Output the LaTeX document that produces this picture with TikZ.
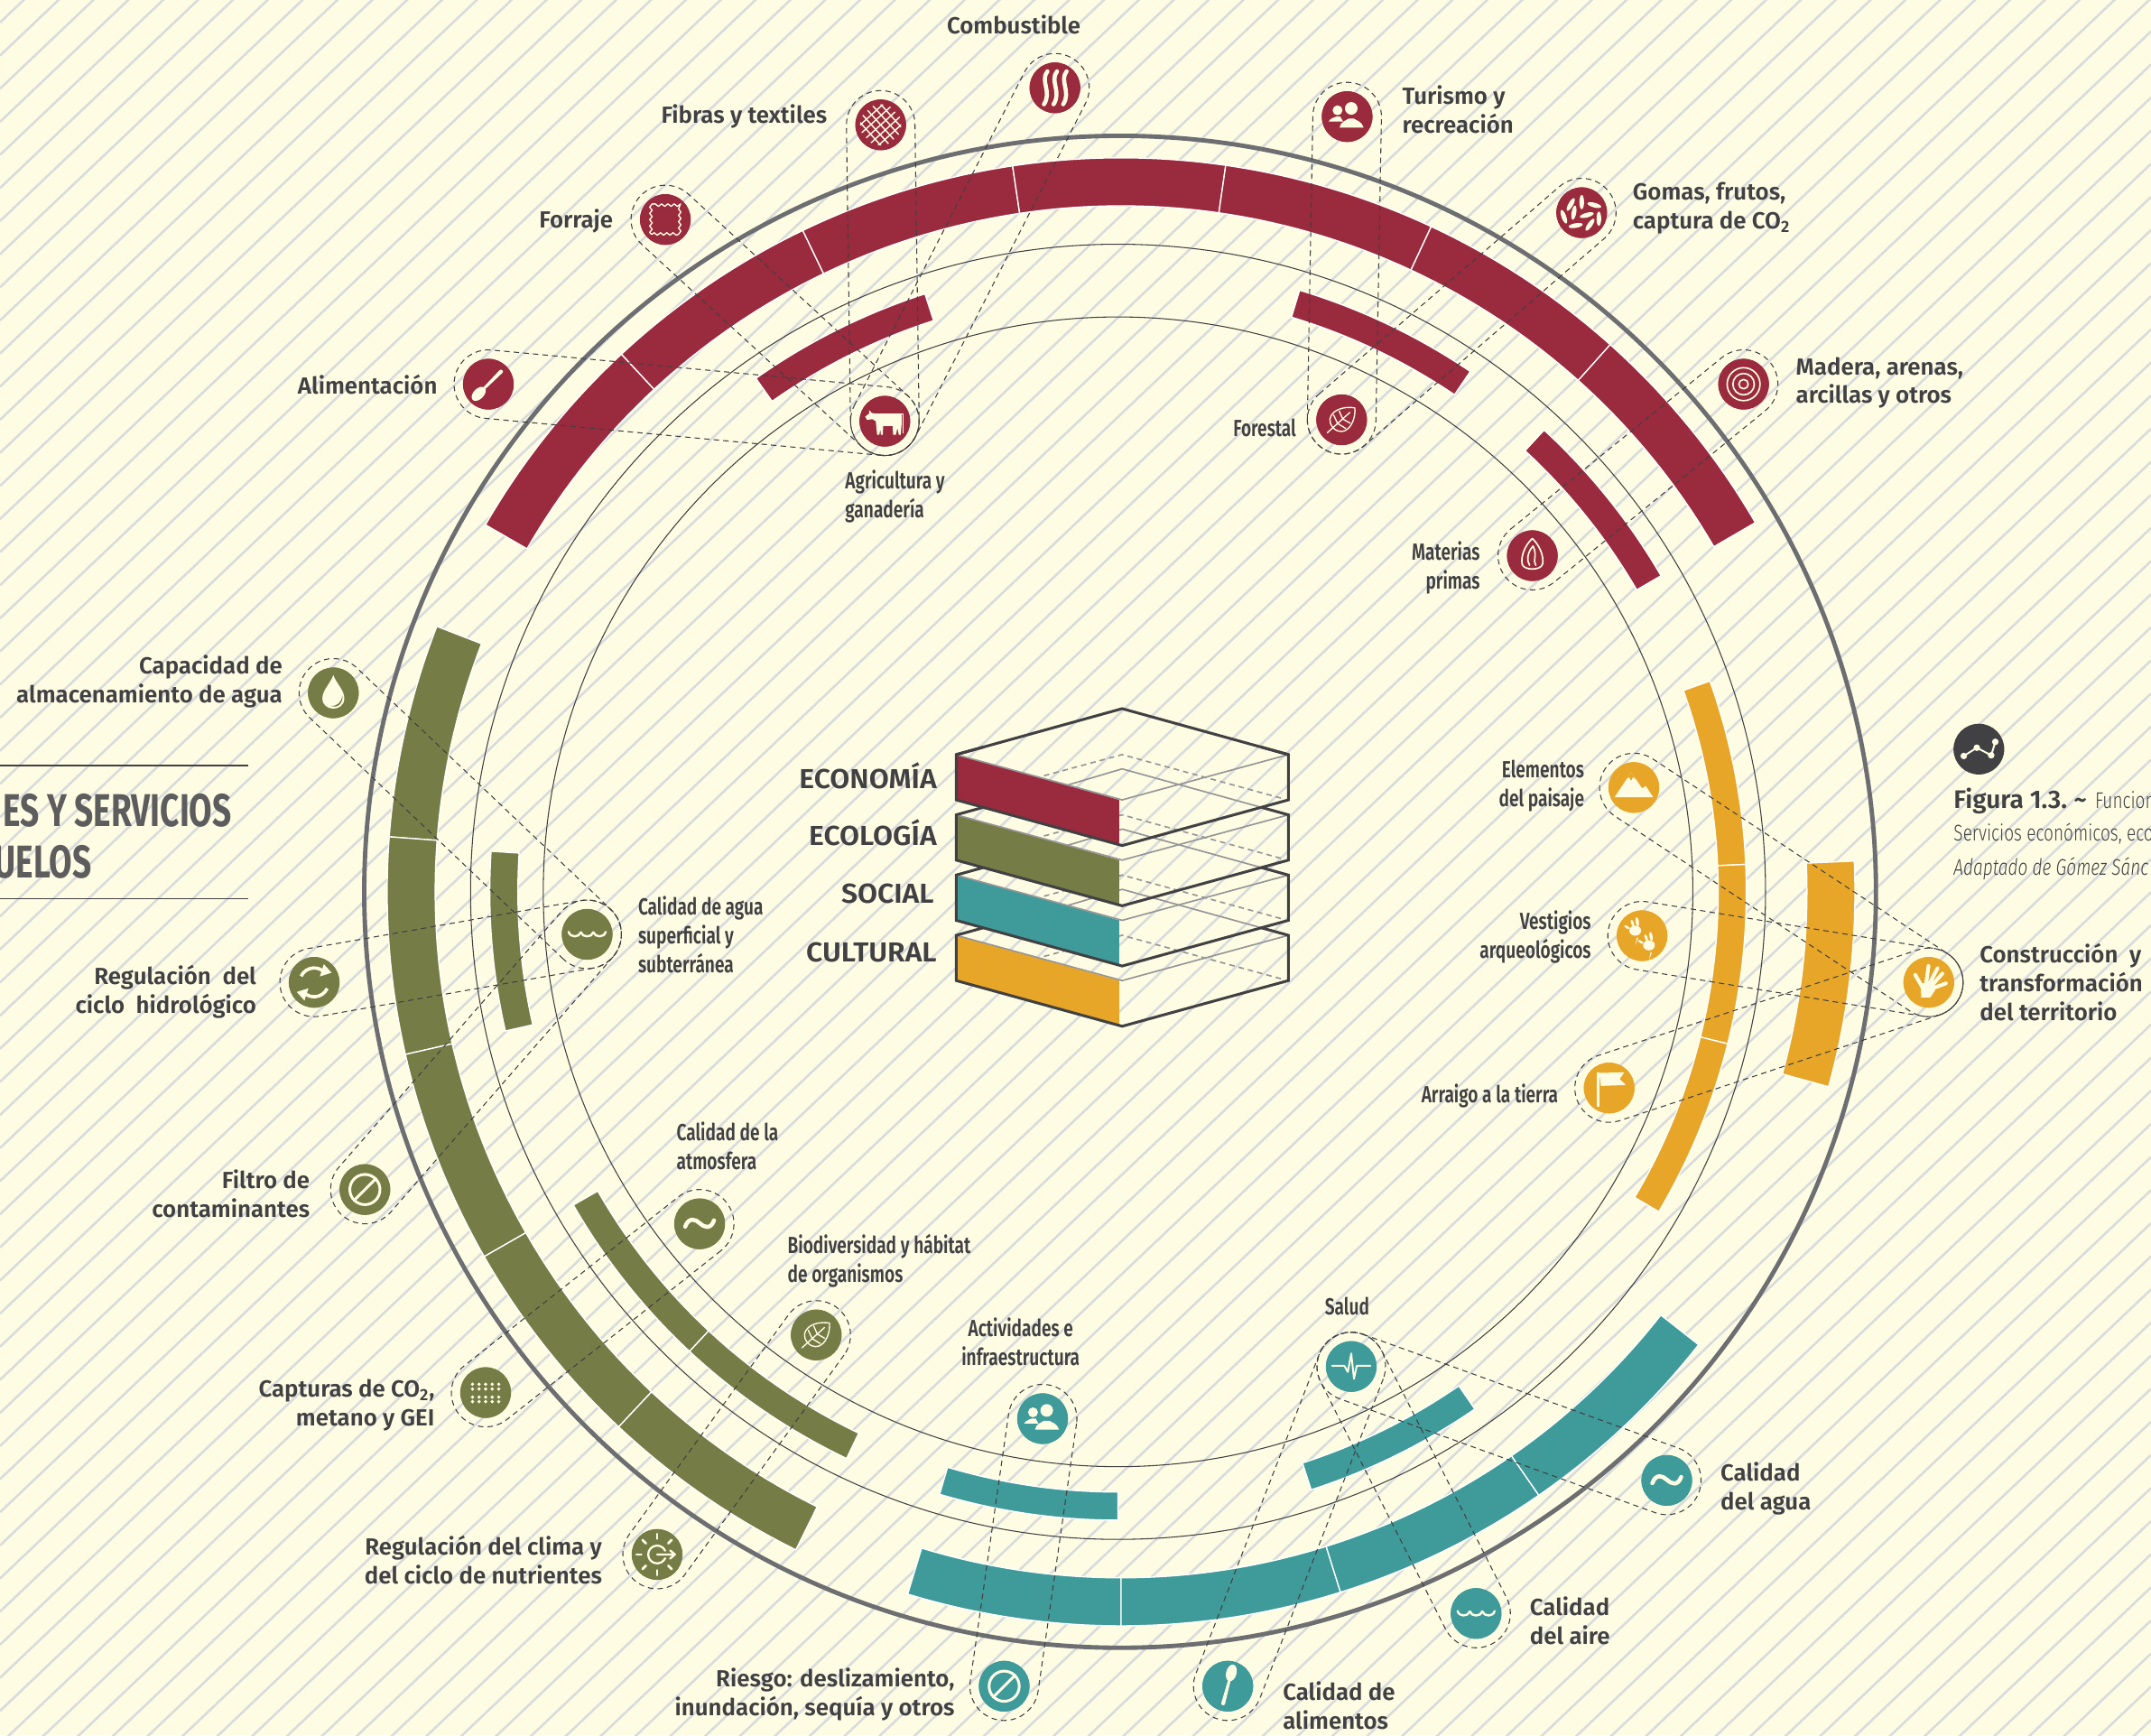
\documentclass[tikz,border=0pt]{standalone}
\usepackage{fontspec}
\usetikzlibrary{calc,decorations.pathmorphing}
\setmainfont{Fira Sans}
\newfontfamily\labfont{Fira Sans SemiBold}
\newfontfamily\narfont[FakeStretch=0.74]{Fira Sans SemiBold}
\newfontfamily\stackfont[FakeStretch=1.05]{Fira Sans SemiBold}
\newfontfamily\headfont[FakeStretch=0.726]{Fira Sans}
\newfontfamily\lightfont[FakeStretch=0.76]{Fira Sans Light}
\definecolor{paper}{HTML}{FEFDE4}
\definecolor{hatchc}{HTML}{DADCDC}
\definecolor{ink}{HTML}{414042}
\definecolor{ringc}{HTML}{6D6E71}
\definecolor{cRed}{HTML}{9A2A3D}
\definecolor{cOli}{HTML}{767C46}
\definecolor{cTeal}{HTML}{3F9A9A}
\definecolor{cYel}{HTML}{E7A628}
\tikzset{
  x=1pt,y=1pt,
  icon/.style={circle,fill=#1,minimum size=37pt,inner sep=0pt,draw=none},
  lab/.style={font=\labfont\fontsize{17}{21}\selectfont,text=ink,inner sep=0pt},
  nar/.style={font=\narfont\fontsize{17}{21}\selectfont,text=ink,inner sep=0pt},
  stackcap/.style={font=\stackfont\fontsize{20}{24}\selectfont,text=ink,inner sep=0pt},
  head/.style={font=\headfont\bfseries\fontsize{33.5}{37}\selectfont,text=ink!85,inner sep=0pt},
  dashcap/.style={draw=ink,line width=0.7pt,dash pattern=on 4pt off 3pt},
  glyph/.style={draw=paper,line cap=round,line join=round,line width=#1},
  glyph/.default=1pt,
  gfill/.style={fill=paper,draw=none},
  hatchl/.style={draw=hatchc,line width=1.75pt},
  facegray/.style={draw=ink!55,line width=1.1pt},
  stackl/.style={draw=ink,line width=2pt,line join=miter}
}
% capsule hull of two icons
\newcommand\capsule[2]{%
  \draw[dashcap] let \p1=(#1),\p2=(#2),\n1={atan2(\y2-\y1,\x2-\x1)} in
    ($(#1)+({\n1+90}:25pt)$) -- ($(#2)+({\n1+90}:25pt)$)
    arc[start angle=\n1+90,delta angle=-180,radius=25pt]
    -- ($(#1)+({\n1-90}:25pt)$)
    arc[start angle=\n1-90,delta angle=-180,radius=25pt] -- cycle;}
% annular sector about the scope origin
\newcommand\sector[5]{%
  \fill[#1,draw=white,line width=0.9pt] (#2:#4) arc[start angle=#2,end angle=#3,radius=#4]
    -- (#3:#5) arc[start angle=#3,end angle=#2,radius=#5] -- cycle;}
% glyphs
\newcommand\gSpoon[1]{\begin{scope}[rotate=#1]
  \fill[gfill] (0,10) ellipse[x radius=3.8,y radius=6.2];
  \fill[gfill] (-0.9,6) -- (0.9,6) -- (1.4,-13) arc[start angle=0,end angle=-180,radius=1.4] -- cycle;
  \end{scope}}
\newcommand\gZig{\draw[glyph=0.9pt,decorate,decoration={zigzag,segment length=4.6pt,amplitude=0.9pt}] (-10.5,-10.5) rectangle (10.5,10.5);}
\newcommand\gGrid{\begin{scope}
  \clip (0,0) circle (15);
  \foreach \o in {-10,-5,0,5,10}{
    \draw[glyph=0.95pt,rotate=42] (-14,\o) -- (14,\o);
    \draw[glyph=0.95pt,rotate=-48] (-14,\o) -- (14,\o);}
  \end{scope}}
\newcommand\gFlame{\foreach \dx in {-7,0,7}{
  \draw[glyph=3pt,xshift=\dx] (1.5,12) .. controls (-4,5) and (5,-3) .. (-1,-12);}}
\newcommand\gPeople{
  \fill[gfill] (-7,4.6) circle (3.6);
  \fill[gfill] (-13.5,-3.5) .. controls (-12,-1) and (-9,-.5) .. (-8,0) -- (-5,0) -- (-3,-3.5) -- cycle;
  \fill[paper] (3,6) circle (4.6);
  \fill[paper] (-5.5,-8) .. controls (-5,-3.5) and (0,-2.5) .. (1,-1.5) -- (5,-1.5) .. controls (6,-2.5) and (11,-3.5) .. (12,-8) -- cycle;}
\newcommand\gSeeds{\foreach \p/\a in {{9.2,5.5}/-15,{0,7.7}/90,{-8,6}/60,{-5.7,0}/80,{3.7,-1.8}/15,{-13,-3}/-70,{-4.4,-9.4}/10,{6,-8.8}/55,{12.5,-4.4}/90}{
   \fill[gfill,rotate around={\a:(\p)}] (\p) ellipse[x radius=5.2,y radius=1.7];}}
\newcommand\gTarget{\foreach \r in {3.4,7.8,12}{\draw[glyph=1.1pt] (0,0) circle (\r);}}
\newcommand\gLeaf{\begin{scope}[rotate=42]
  \draw[glyph=0.9pt] (13,0) .. controls (5,10) and (-8,11) .. (-8.5,0) .. controls (-8,-11) and (5,-10) .. (13,0);
  \draw[glyph=0.9pt] (-14,0) -- (8,0) (-4,0) -- (-2,6.5) (-4,0) -- (-2,-6.5) (1,0) -- (3,6) (1,0) -- (3,-6);
  \end{scope}}
\newcommand\gAlmond{
  \draw[glyph=1.1pt] (0,12.5) .. controls (-5,8) and (-8.5,0) .. (-7.5,-6) .. controls (-6.5,-11) and (6.5,-11) .. (7.5,-6) .. controls (8.5,0) and (5,8) .. (0,12.5);
  \draw[glyph=1.1pt] (0.5,7) .. controls (-4,2) and (-4,-4) .. (-2,-7);
  \draw[glyph=1.1pt] (0.5,7) .. controls (4,0) and (0,-3) .. (2.5,-7);}
\newcommand\gCow{
  \fill[gfill] (-14.3,3.3) -- (-11.5,5.5) -- (-11.4,8.1) -- (-9.5,6) -- (-6.6,5.5) -- (12.2,5.5) -- (12.2,-2.5) -- (11.6,-9.9) -- (10.2,-9.9) -- (9.2,-5) -- (8,-9.9) -- (6,-9.9) -- (5.8,-3.5) -- (-1.2,-3.5) -- (-1.5,-9.9) -- (-2.9,-9.9) -- (-3.3,-5.5) -- (-4,-9.9) -- (-5.6,-9.9) -- (-6.6,0) -- (-9,1.5) -- (-13,1) -- cycle;
  \draw[glyph=0.7pt] (12.2,5.5) -- (13.6,5.5) -- (13.6,-8.5);}
\newcommand\gDrop{
  \fill[gfill] (0,13) .. controls (-2,7) and (-8,2) .. (-8,-4) .. controls (-8,-14) and (8,-14) .. (8,-4) .. controls (8,2) and (2,7) .. (0,13) -- cycle;
  \fill[cOli] (-2,-9.5) .. controls (3,-10) and (6,-6.5) .. (6.6,-2) .. controls (7,-7) and (4,-11.5) .. (-2,-9.5) -- cycle;}
\newcommand\gCycle{\foreach \r in {0,180}{\begin{scope}[rotate=\r]
  \draw[glyph=2.4pt,line cap=butt] (155:10.5) arc[start angle=155,end angle=45,radius=10.5];
  \fill[gfill] (29:14.5) -- (62:15) -- (46:6) -- cycle;
  \end{scope}}}
\newcommand\gBan{\draw[glyph=2pt] (0,0) circle (11); \draw[glyph=2pt] (-8,-8) -- (8,8);}
\newcommand\gWave{\draw[glyph=1.6pt] (-13.5,1.8) .. controls (-12.5,-2.5) and (-6,-2.5) .. (-4.5,1.5) .. controls (-3.5,-2.5) and (3.5,-2.5) .. (4.5,1.5) .. controls (6,-2.5) and (12.5,-2.5) .. (13.5,1.8);}
\newcommand\gTilde{\draw[glyph=3pt] (-10.5,-2) .. controls (-8,5) and (-3,3.5) .. (0,0.5) .. controls (3,-2.5) and (8,-4.5) .. (10.5,2.5);}
\newcommand\gDots{\foreach \yy in {6.1,2.6,-3.3,-6.6}{\foreach \xx in {-9.6,-4.8,0,4.8,9.6}{\fill[gfill] (\xx,\yy) circle (1.3);}}}
\newcommand\gSun{\foreach \a in {45,90,135,180,225,270,315}{\draw[glyph=1.8pt] (\a:11.5) -- (\a:15);}
  \draw[glyph=1.5pt] (25:6.5) arc[start angle=25,end angle=335,radius=6.5];
  \draw[glyph=1.5pt] (0,0) -- (13,0) (9.5,3) -- (13,0) -- (9.5,-3);}
\newcommand\gPulse{\draw[glyph=1.3pt] (-14,0.5) -- (-5,0.5) -- (-2.5,-4) -- (0,9.5) -- (2,-9) -- (4,0.5) -- (14,0.5);}
\newcommand\gMount{
  \fill[gfill] (-14,-7) -- (-2,11) -- (6,-.5) -- (8.8,1) -- (14,-7) -- cycle;
  \fill[cYel] (-5,6.5) -- (-2,11) -- (1,6.5) -- (-.7,7.6) -- (-2,5) -- (-3.5,7.6) -- cycle;}
\newcommand\gPaw[2]{\begin{scope}[shift={(#1,#2)}]
  \fill[gfill] (0,0) ellipse[x radius=4.3,y radius=3.7];
  \fill[gfill,rotate around={100:(1.5,6.5)}] (1.5,6.5) ellipse[x radius=3.3,y radius=1.2];
  \fill[gfill,rotate around={110:(-2,5.5)}] (-2,5.5) ellipse[x radius=2.6,y radius=1];
  \fill[gfill,rotate around={-30:(-6,2.5)}] (-6,2.5) ellipse[x radius=2.2,y radius=.9];
  \fill[gfill] (1,-5.5) -- (2.2,-5) -- (.2,-10.5) -- cycle;
  \end{scope}}
\newcommand\gFlag{
  \fill[gfill] (-8.8,11) -- (-7.3,11) -- (-7.3,-13.5) -- (-8.8,-13.5) -- cycle;
  \fill[gfill] (-7.3,11) -- (11,11.4) -- (7.7,6.6) -- (12,2.2) -- (-6,1.5) -- cycle;}
\newcommand\gHand{
  \fill[gfill] (-6,-1) -- (4,1) -- (4.5,-6) -- (1,-11) -- (-5.5,-11) -- cycle;
  \draw[glyph=2.7pt] (-5,-3) -- (-9.9,5.5) (-1.8,0) -- (-0.2,12) (1,0) -- (6.4,10.3) (2.6,-1.8) -- (9.9,6.4) (3.7,-4) -- (12.5,-0.7);}
\newcommand\gChart{
  \draw[glyph=1.3pt] (-11,-5) -- (-1.5,1) -- (9,-4.5) -- (12,5.3);
  \foreach \p in {(-11,-5),(-1.5,1),(9,-4.5),(12,5.3)}{\fill[gfill] \p circle (2.4);}}
\begin{document}
\begin{tikzpicture}
\useasboundingbox (0,-1264.7) rectangle (1568,0);
\clip (0,-1264.7) rectangle (1568,0);
\fill[paper] (0,-1264.7) rectangle (1568,0);
% hatching
\foreach \n in {0,...,115}{
  \draw[hatchl] (0,{-16.4-24.13*\n}) -- ++(1568,1489.6);}
% rings and outer band
\begin{scope}[shift={(816.5,-650)}]
  \draw[ringc,line width=3.2pt] (0,0) circle (551);
\end{scope}
\begin{scope}[shift={(817.2,-650)}]
  \foreach \a/\b in {150/132.9,132.9/115.7,115.7/98.5,98.5/81.8,81.8/65,65/48.2,48.2/30.2}{\sector{cRed}{\a}{\b}{535}{500}}
  \foreach \a/\b in {158.8/175.7,175.7/192.8,192.8/209.8,209.8/226.8,226.8/243.7}{\sector{cOli}{\a}{\b}{535}{500}}
  \foreach \a/\b in {253.1/270,270/287.4,287.4/304.7,304.7/321.9}{\sector{cTeal}{\a}{\b}{535}{500}}
  \sector{cYel}{2.4}{-15.4}{535}{500}
\end{scope}
% inner circles and inner band
\begin{scope}[shift={(815,-650)}]
  \draw[ink,line width=0.7pt] (0,0) circle (472);
  \draw[ink,line width=0.7pt] (0,0) circle (419);
  \sector{cRed}{125.2}{107.9}{458}{437.5}
  \sector{cRed}{73.2}{55.9}{458}{437.5}
  \sector{cRed}{47.3}{30.2}{458}{437.5}
  \foreach \a/\b in {19.6/2.5,2.5/-14,-14/-30.6}{\sector{cYel}{\a}{\b}{458}{437.5}}
  \sector{cOli}{176.3}{192.8}{458}{437.5}
  \foreach \a/\b in {209.9/227,227/244.4}{\sector{cOli}{\a}{\b}{458}{437.5}}
  \sector{cTeal}{253.5}{270}{458}{437.5}
  \sector{cTeal}{287.9}{304.6}{458}{437.5}
\end{scope}
% nodes
\node[icon=cRed] (alim) at (356,-280) {};
\node[icon=cRed] (forr) at (485,-160) {};
\node[icon=cRed] (fibr) at (642,-91) {};
\node[icon=cRed] (comb) at (769,-64) {};
\node[icon=cRed] (turi) at (982,-85) {};
\node[icon=cRed] (goma) at (1153,-155) {};
\node[icon=cRed] (made) at (1271,-280) {};
\node[icon=cRed] (agri) at (645,-307) {};
\node[icon=cRed] (fore) at (978,-306) {};
\node[icon=cRed] (mate) at (1117,-405) {};
\node[icon=cOli] (capa) at (243,-505) {};
\node[icon=cOli] (rciclo) at (229,-716) {};
\node[icon=cOli] (filt) at (266,-867) {};
\node[icon=cOli] (capt) at (354,-1015) {};
\node[icon=cOli] (rclima) at (479,-1133) {};
\node[icon=cOli] (csup) at (428,-681) {};
\node[icon=cOli] (catm) at (510,-892) {};
\node[icon=cOli] (biod) at (595,-973) {};
\node[icon=cTeal] (acti) at (760,-1034) {};
\node[icon=cTeal] (salu) at (985,-996) {};
\node[icon=cTeal] (cagu) at (1215,-1079) {};
\node[icon=cTeal] (cair) at (1076,-1176) {};
\node[icon=cTeal] (cali) at (895,-1229) {};
\node[icon=cTeal] (ries) at (732,-1229) {};
\node[icon=cYel] (elem) at (1191,-574) {};
\node[icon=cYel] (vest) at (1197,-682) {};
\node[icon=cYel] (arra) at (1173,-793) {};
\node[icon=cYel] (cons) at (1406,-716) {};
\node[icon=ink] (figi) at (1442.5,-546) {};
% capsules
\foreach \h/\l in {agri/alim,agri/forr,agri/fibr,agri/comb,fore/turi,fore/goma,mate/made,
   csup/capa,csup/rciclo,csup/filt,catm/capt,biod/rclima,acti/ries,
   salu/cagu,salu/cair,salu/cali,cons/elem,cons/vest,cons/arra}{\capsule{\h}{\l}}
% re-lay icons above the dashes
\foreach \n/\c in {alim/cRed,forr/cRed,fibr/cRed,comb/cRed,turi/cRed,goma/cRed,made/cRed,agri/cRed,fore/cRed,mate/cRed,
  capa/cOli,rciclo/cOli,filt/cOli,capt/cOli,rclima/cOli,csup/cOli,catm/cOli,biod/cOli,
  acti/cTeal,salu/cTeal,cagu/cTeal,cair/cTeal,cali/cTeal,ries/cTeal,elem/cYel,vest/cYel,arra/cYel,cons/cYel}{
  \fill[\c] (\n) circle (18.4);}
% glyphs
\begin{scope}[shift={(alim)}]\gSpoon{135}\end{scope}
\begin{scope}[shift={(forr)}]\gZig\end{scope}
\begin{scope}[shift={(fibr)}]\gGrid\end{scope}
\begin{scope}[shift={(comb)}]\gFlame\end{scope}
\begin{scope}[shift={(turi)}]\gPeople\end{scope}
\begin{scope}[shift={(goma)}]\gSeeds\end{scope}
\begin{scope}[shift={(made)}]\gTarget\end{scope}
\begin{scope}[shift={(agri)}]\gCow\end{scope}
\begin{scope}[shift={(fore)}]\gLeaf\end{scope}
\begin{scope}[shift={(mate)}]\gAlmond\end{scope}
\begin{scope}[shift={(capa)}]\gDrop\end{scope}
\begin{scope}[shift={(rciclo)}]\gCycle\end{scope}
\begin{scope}[shift={(filt)}]\gBan\end{scope}
\begin{scope}[shift={(capt)}]\gDots\end{scope}
\begin{scope}[shift={(rclima)}]\gSun\end{scope}
\begin{scope}[shift={(csup)}]\gWave\end{scope}
\begin{scope}[shift={(catm)}]\gTilde\end{scope}
\begin{scope}[shift={(biod)}]\gLeaf\end{scope}
\begin{scope}[shift={(acti)}]\gPeople\end{scope}
\begin{scope}[shift={(salu)}]\gPulse\end{scope}
\begin{scope}[shift={(cagu)}]\gTilde\end{scope}
\begin{scope}[shift={(cair)}]\gWave\end{scope}
\begin{scope}[shift={(cali)}]\gSpoon{-15}\end{scope}
\begin{scope}[shift={(ries)}]\gBan\end{scope}
\begin{scope}[shift={(elem)}]\gMount\end{scope}
\begin{scope}[shift={(vest)}]\gPaw{-5}{3.7}\gPaw{5}{-7}\end{scope}
\begin{scope}[shift={(arra)}]\gFlag\end{scope}
\begin{scope}[shift={(cons)}]\gHand\end{scope}
\begin{scope}[shift={(figi)}]\gChart\end{scope}
% stack
\foreach \k/\c in {3/cYel,2/cTeal,1/cOli,0/cRed}{
  \pgfmathsetmacro\dd{43.9*\k}
  \begin{scope}[yshift=-\dd]
    \draw[facegray,dash pattern=on 4pt off 3pt] (761,-565.4) -- (818,-550) -- (936.4,-582.4);
    \ifnum\k<3
      \draw[facegray] (777.5,-572.4) -- (818,-560.4) -- (919.5,-588.45);
    \fi
    \fill[\c] (697,-550) -- (815.9,-583) -- (815.9,-615.6) -- (697,-583) -- cycle;
    \draw[facegray] (697,-550) -- (818,-583) -- (939.2,-550);
    \draw[stackl] (716.7,-544.55) -- (697,-550) -- (697,-583) -- (818,-616.3) -- (939.2,-583) -- (939.2,-550) -- (919.5,-544.55);
  \end{scope}}
\draw[stackl] (697,-550) -- (818,-516.5) -- (939.2,-550);
% labels
\node[lab] (tcomb) at (739,-18) {Combustible};
\node[lab,anchor=east] (tfibr) at (603,-85) {Fibras y textiles};
\node[lab,anchor=east] (tforr) at (447,-161) {Forraje};
\node[lab,anchor=east] (talim) at (319,-280) {Alimentación};
\node[lab,anchor=west,align=left] (tturi) at (1022,-80) {Turismo y\\recreación};
\node[lab,anchor=west,align=left] (tgoma) at (1190,-152) {Gomas, frutos,\\captura de CO\textsubscript{2}};
\node[lab,anchor=west,align=left] (tmade) at (1309,-279) {Madera, arenas,\\arcillas y otros};
\node[nar,anchor=west,align=left] (tagri) at (616,-362) {Agricultura y\\ganadería};
\node[nar,anchor=east] (tfore) at (945,-312) {Forestal};
\node[nar,anchor=east,align=right] (tmate) at (1079,-414) {Materias\\primas};
\node[lab,anchor=east,align=right] (tcapa) at (206,-497) {Capacidad de\\almacenamiento de agua};
\node[lab,anchor=east,align=right] (trcic) at (187,-723) {Regulación\ \ del\\ciclo\ \ hidrológico};
\node[lab,anchor=east,align=right] (tfilt) at (226,-870) {Filtro de\\contaminantes};
\node[lab,anchor=east,align=right] (tcapt) at (317,-1024) {Capturas de CO\textsubscript{2},\\metano y GEI};
\node[lab,anchor=east,align=right] (trcli) at (439,-1137) {Regulación del clima y\\del ciclo de nutrientes};
\node[lab,anchor=east,align=right] (tries) at (696,-1235) {Riesgo: deslizamiento,\\inundación, sequía y otros};
\node[nar,anchor=west,align=left] (tcsup) at (465,-681) {Calidad de agua\\superficial y\\subterránea};
\node[nar,anchor=west,align=left] (tcatm) at (493,-835) {Calidad de la\\atmosfera};
\node[nar,anchor=west,align=left] (tbiod) at (574,-919) {Biodiversidad y hábitat\\de organismos};
\node[nar,align=center] (tacti) at (744,-978) {Actividades e\\infraestructura};
\node[nar] (tsalu) at (982,-952) {Salud};
\node[lab,anchor=west,align=left] (tcagu) at (1254,-1085) {Calidad\\del agua};
\node[lab,anchor=west,align=left] (tcair) at (1115,-1181) {Calidad\\del aire};
\node[lab,anchor=west,align=left] (tcali) at (935,-1243) {Calidad de\\alimentos};
\node[nar,anchor=east,align=right] (telem) at (1155,-573) {Elementos\\del paisaje};
\node[nar,anchor=east,align=right] (tvest) at (1160,-683) {Vestigios\\arqueológicos};
\node[nar,anchor=east] (tarra) at (1136,-799) {Arraigo a la tierra};
\node[lab,anchor=west,align=left] (tcons) at (1443,-716) {Construcción\ \ y\\transformación\\del territorio};
\node[stackcap,anchor=base east] (teco) at (683,-575) {ECONOMÍA};
\node[stackcap,anchor=base east] (tecl) at (683,-616) {ECOLOGÍA};
\node[stackcap,anchor=base east] (tsoc) at (681,-658) {SOCIAL};
\node[stackcap,anchor=base east] (tcul) at (683,-701) {CULTURAL};
% heading block
\draw[ink,line width=0.9pt] (0,-558) -- (181,-558);
\draw[ink,line width=0.9pt] (0,-655) -- (181,-655);
\node[head,anchor=east] (h1) at (169,-591) {ES Y SERVICIOS};
\node[head,anchor=east] (h2) at (67,-628) {UELOS};
% caption
\node[anchor=west,inner sep=0pt,text=ink,font=\labfont\fontsize{18.5}{21}\selectfont] (fig1) at (1424,-584) {Figura 1.3.\hspace{5pt}\textasciitilde\hspace{6pt}{\lightfont\fontsize{16.5}{18}\selectfont Funcion}};
\node[anchor=west,inner sep=0pt,text=ink,font=\lightfont\fontsize{16.5}{18}\selectfont] (fig2) at (1424,-608) {Servicios económicos, eco};
\node[anchor=west,inner sep=0pt,text=ink,font=\lightfont\itshape\fontsize{16.5}{18}\selectfont] (fig3) at (1424,-633) {Adaptado de Gómez Sánc};
\end{tikzpicture}
\end{document}
